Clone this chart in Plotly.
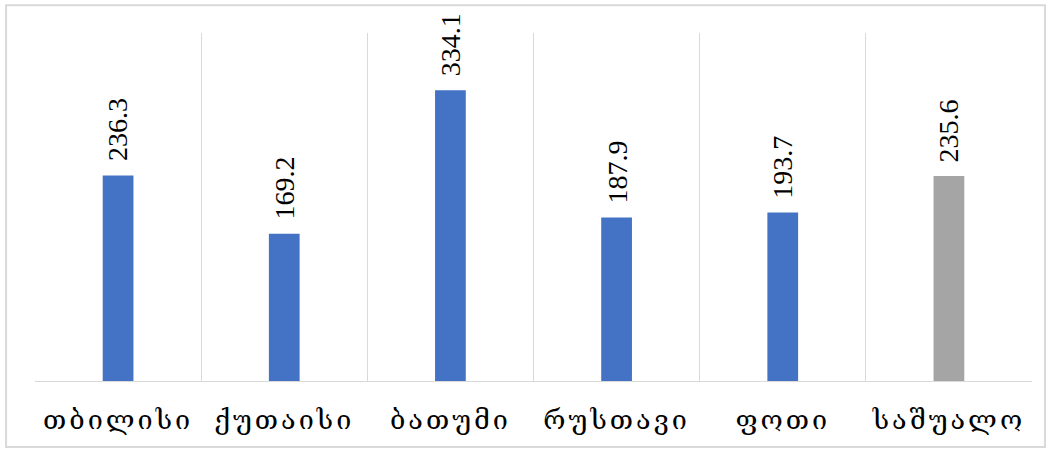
import plotly.graph_objects as go

categories = ["თბილისი", "ქუთაისი", "ბათუმი", "რუსთავი", "ფოთი", "საშუალო"]
values = [236.3, 169.2, 334.1, 187.9, 193.7, 235.6]
bar_colors = ["#4472C4", "#4472C4", "#4472C4", "#4472C4", "#4472C4", "#A5A5A5"]
value_labels = ["236.3", "169.2", "334.1", "187.9", "193.7", "235.6"]

fig = go.Figure()
fig.add_trace(go.Bar(
    x=categories, y=values, marker=dict(color=bar_colors, line=dict(width=0)),
    width=0.185, hoverinfo="skip",
))

for c, v, t in zip(categories, values, value_labels):
    fig.add_annotation(
        x=c, y=v, text=t, textangle=-90, showarrow=False,
        xanchor="center", yanchor="bottom", yshift=12,
        font=dict(family="Liberation Serif, DejaVu Serif, serif", size=28, color="#000000"),
    )

fig.add_shape(type="rect", xref="paper", yref="paper",
              x0=-0.029, x1=1.013, y0=-0.19, y1=1.080,
              line=dict(color="#D9D9D9", width=2))

fig.update_layout(
    width=1051, height=453,
    margin=dict(l=35, r=19, t=33, b=72),
    paper_bgcolor="white", plot_bgcolor="white",
    showlegend=False,
    xaxis=dict(
        type="category", tickson="boundaries", showgrid=True, gridcolor="#D9D9D9",
        gridwidth=1, ticks="", showline=False, zeroline=False, automargin=False,
        tickfont=dict(family="DejaVu Serif, Noto Sans, serif", size=27, color="#000000"),
        ticklabelstandoff=20,
    ),
    yaxis=dict(
        range=[0, 400], showgrid=False, showticklabels=False, zeroline=True,
        zerolinecolor="#D9D9D9", zerolinewidth=1, ticks="", automargin=False,
    ),
)

post = """
document.body.style.margin = '0';
document.body.style.padding = '0';
document.querySelectorAll('.xtick text').forEach(function(t){
  t.style.letterSpacing = '3px';
});
"""
fig.write_html("out.html", post_script=post, config={"displayModeBar": False, "staticPlot": True})
